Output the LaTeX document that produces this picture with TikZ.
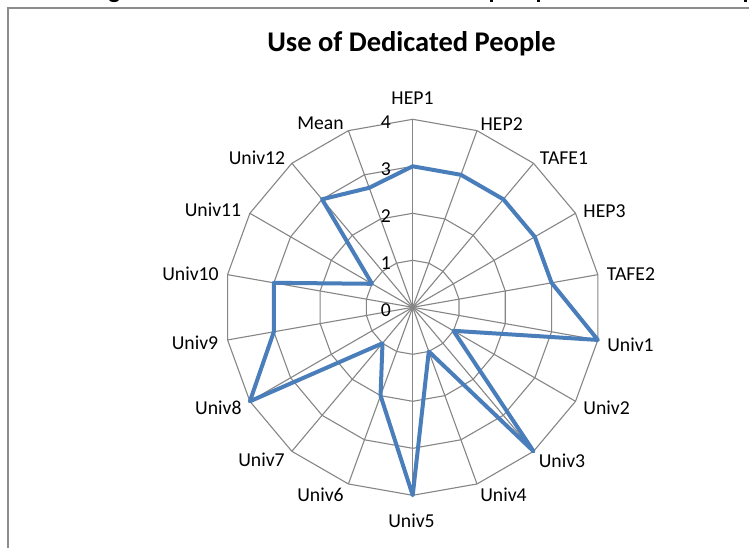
\documentclass[tikz,border=0pt]{standalone}
\usepackage{fontspec}
\setmainfont{Carlito}
\definecolor{gridc}{HTML}{868686}
\definecolor{datac}{HTML}{4A7EBB}
\definecolor{framec}{HTML}{8C8C8C}
\begin{document}
\begin{tikzpicture}[x=1pt,y=-1pt,
  gridline/.style={draw=gridc,line width=1.1pt},
  dataline/.style={draw=datac,line width=4pt,line join=round},
  lab/.style={font=\fontsize{19.7}{22}\selectfont,anchor=base,inner sep=0pt},
  ticklab/.style={font=\fontsize{19.7}{22}\selectfont,anchor=base east,inner sep=0pt},
  ttl/.style={font=\fontsize{28.5}{32}\selectfont\bfseries,anchor=base,inner sep=0pt},
  fragfill/.style={fill=black}]
\useasboundingbox (0,0) rectangle (749,548);
\fill[white] (0,0) rectangle (749,548);
% cut-off descender fragments of a line above the frame
\fill[fragfill] (109,0) .. controls (110,2.8) and (118,2.8) .. (119,0) -- cycle;
\fill[fragfill] (489.5,0) rectangle (493,2.2);
\fill[fragfill] (536.5,0) rectangle (540,2.2);
\fill[fragfill] (743.5,0) rectangle (747,2.2);
% frame
\draw[draw=framec,line width=1.5pt] (8,548) -- (8,8) -- (749,8);
% title
\node[ttl] (title) at (411.5,51.7) {Use of Dedicated People};
% grid and data
\begin{scope}[shift={(412.7,307.3)}]
\coordinate (C) at (0,0);
\foreach \k in {1,2,3,4}{
  \draw[gridline] (-90:{47*\k}) \foreach \i in {1,...,17}{ -- ({-90+20*\i}:{47*\k}) } -- cycle;
}
\foreach \i in {0,...,17}{
  \coordinate (s\i) at ({-90+20*\i}:188);
  \draw[gridline] (C) -- (s\i);
}
\foreach \v [count=\i from 0] in {3,3,3,3,3,4,1,4,1,4,2,1,4,3,3,1,3,2.706}{
  \coordinate (d\i) at ({-90+20*\i}:{47*\v});
}
\draw[dataline] (d0) \foreach \i in {1,...,17}{ -- (d\i) } -- cycle;
\end{scope}
% tick labels
\node[ticklab] (t4) at (391,128.1) {4};
\node[ticklab] (t3) at (391,175.1) {3};
\node[ticklab] (t2) at (391,222.1) {2};
\node[ticklab] (t1) at (391,269.1) {1};
\node[ticklab] (t0) at (391,316.1) {0};
% category labels
\node[lab] (l0)  at (412.5,104.3) {HEP1};
\node[lab] (l1)  at (501.7,130.3) {HEP2};
\node[lab] (l2)  at (564,164.3) {TAFE1};
\node[lab] (l3)  at (604.5,217.3) {HEP3};
\node[lab] (l4)  at (631,280.3) {TAFE2};
\node[lab] (l5)  at (630.5,351.3) {Univ1};
\node[lab] (l6)  at (606.6,414.3) {Univ2};
\node[lab] (l7)  at (562,467.3) {Univ3};
\node[lab] (l8)  at (503.5,501.3) {Univ4};
\node[lab] (l9)  at (411.5,527.3) {Univ5};
\node[lab] (l10) at (320.5,501.3) {Univ6};
\node[lab] (l11) at (261.5,466.8) {Univ7};
\node[lab] (l12) at (218.3,414.8) {Univ8};
\node[lab] (l13) at (195,349.8) {Univ9};
\node[lab] (l14) at (190.5,280.8) {Univ10};
\node[lab] (l15) at (213,216.8) {Univ11};
\node[lab] (l16) at (257,164.3) {Univ12};
\node[lab] (l17) at (320.5,129.3) {Mean};
\end{tikzpicture}
\end{document}
